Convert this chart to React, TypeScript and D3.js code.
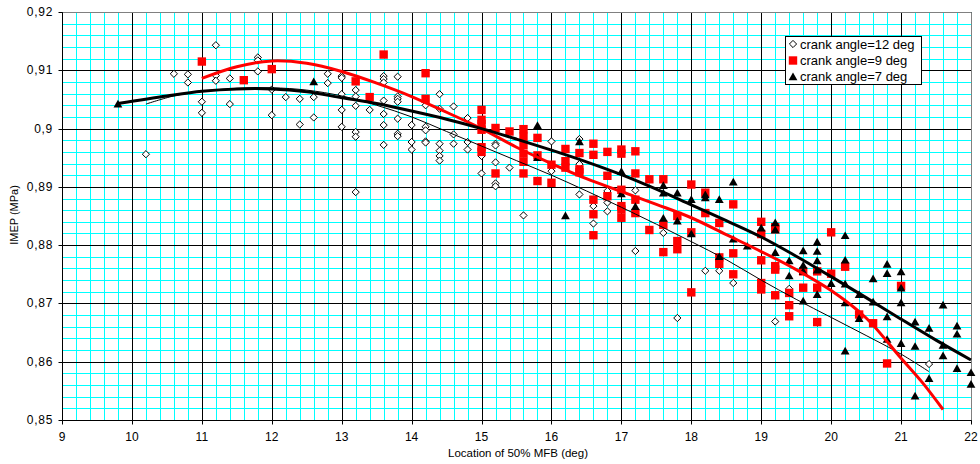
import React from "react";
import * as d3 from "d3";

// ---- data ----
const xTicks = [9, 10, 11, 12, 13, 14, 15, 16, 17, 18, 19, 20, 21, 22];
const yTicks = [0.85, 0.86, 0.87, 0.88, 0.89, 0.9, 0.91, 0.92];
const yTickLabels = ["0,85", "0,86", "0,87", "0,88", "0,89", "0,9", "0,91", "0,92"];

const deg12: [number, number][] = [
  [10.2, 0.8956], [10.6, 0.9094], [10.8, 0.9093], [10.8, 0.9079], [11.0, 0.9046], [11.0, 0.9027],
  [11.2, 0.9143], [11.2, 0.9091], [11.2, 0.9082], [11.4, 0.9086], [11.4, 0.9042],
  [11.8, 0.9122], [11.8, 0.9117], [11.8, 0.9098], [12.0, 0.9067], [12.0, 0.9023], [12.2, 0.9054],
  [12.4, 0.9051], [12.4, 0.9007], [12.6, 0.9054], [12.6, 0.9019], [12.8, 0.9094], [12.8, 0.9078],
  [13.0, 0.909], [13.0, 0.9087], [13.0, 0.9059], [13.0, 0.9032], [13.0, 0.9003],
  [13.2, 0.9066], [13.2, 0.9055], [13.2, 0.9039], [13.2, 0.8994], [13.2, 0.8986], [13.2, 0.8891],
  [13.4, 0.9032], [13.6, 0.909], [13.6, 0.9085], [13.6, 0.9079], [13.6, 0.9048], [13.6, 0.9025],
  [13.6, 0.9006], [13.6, 0.8972], [13.8, 0.9089], [13.8, 0.9055], [13.8, 0.9051], [13.8, 0.9046],
  [13.8, 0.9017], [13.8, 0.8991], [13.8, 0.8987], [14.0, 0.9006], [14.0, 0.8977], [14.0, 0.8964],
  [14.2, 0.904], [14.2, 0.9003], [14.2, 0.8997], [14.2, 0.8978], [14.2, 0.8976],
  [14.4, 0.9059], [14.4, 0.9034], [14.4, 0.8974], [14.4, 0.8962], [14.4, 0.8953], [14.4, 0.8945],
  [14.6, 0.9038], [14.6, 0.899], [14.6, 0.8974], [14.8, 0.9018], [14.8, 0.8977], [14.8, 0.8964],
  [15.0, 0.8953], [15.0, 0.8923], [15.2, 0.8974], [15.2, 0.8971], [15.2, 0.8942], [15.2, 0.8906],
  [15.2, 0.8901], [15.4, 0.8933], [15.6, 0.8851], [16.0, 0.8978], [16.0, 0.8927],
  [16.4, 0.8982], [16.4, 0.8939], [16.4, 0.8887], [16.6, 0.8867], [16.6, 0.8837],
  [16.8, 0.8893], [16.8, 0.8873], [16.8, 0.8858], [17.2, 0.8894], [17.2, 0.879], [17.6, 0.8821],
  [17.8, 0.8675], [18.2, 0.8756], [18.4, 0.8756], [18.6, 0.8735], [19.2, 0.8669], [19.4, 0.8725],
  [19.8, 0.8667], [21.4, 0.8596],
];

const deg9: [number, number][] = [
  [11.0, 0.9115], [11.6, 0.9083], [12.0, 0.9102], [13.2, 0.9081], [13.4, 0.9054], [13.6, 0.9127],
  [14.2, 0.9095], [14.2, 0.9051], [15.0, 0.9032], [15.0, 0.9015], [15.0, 0.9008], [15.0, 0.8998],
  [15.0, 0.8968], [15.0, 0.896], [15.2, 0.9001], [15.2, 0.8923], [15.4, 0.8995],
  [15.6, 0.8999], [15.6, 0.8986], [15.6, 0.8972], [15.6, 0.8957], [15.6, 0.8943], [15.6, 0.8923],
  [15.8, 0.8984], [15.8, 0.8954], [15.8, 0.891], [16.0, 0.8938], [16.0, 0.8907],
  [16.2, 0.8965], [16.2, 0.8944], [16.2, 0.8933], [16.4, 0.8958], [16.4, 0.893], [16.4, 0.8925],
  [16.6, 0.8974], [16.6, 0.8955], [16.6, 0.8878], [16.6, 0.8853], [16.6, 0.8817],
  [16.8, 0.896], [16.8, 0.8919], [16.8, 0.8884], [17.0, 0.8964], [17.0, 0.8957], [17.0, 0.8895],
  [17.0, 0.8867], [17.0, 0.8861], [17.0, 0.8847], [17.2, 0.8961], [17.2, 0.8923], [17.2, 0.8878],
  [17.2, 0.8855], [17.4, 0.8913], [17.4, 0.8826], [17.6, 0.8913], [17.6, 0.8835], [17.6, 0.8788],
  [17.8, 0.885], [17.8, 0.8807], [17.8, 0.8793], [18.0, 0.8904], [18.0, 0.8822], [18.0, 0.8719],
  [18.2, 0.889], [18.2, 0.8855], [18.4, 0.8838], [18.4, 0.8779], [18.4, 0.8768],
  [18.6, 0.887], [18.6, 0.8786], [18.6, 0.875], [19.0, 0.884], [19.0, 0.8819], [19.0, 0.8774],
  [19.0, 0.8735], [19.0, 0.8724], [19.2, 0.8831], [19.2, 0.8827], [19.2, 0.8764], [19.2, 0.8758],
  [19.2, 0.8714], [19.4, 0.8718], [19.4, 0.8697], [19.4, 0.8678], [19.6, 0.8755], [19.6, 0.8727],
  [19.8, 0.8755], [19.8, 0.8727], [19.8, 0.8668], [20.0, 0.8822], [20.0, 0.8751], [20.2, 0.8763],
  [20.4, 0.8681], [20.6, 0.8666], [20.8, 0.8597], [21.0, 0.873],
];

const deg7: [number, number][] = [
  [9.8, 0.9042], [12.6, 0.908], [15.8, 0.9005], [15.8, 0.895], [16.2, 0.885], [16.4, 0.8977],
  [17.0, 0.8926], [17.0, 0.8888], [17.2, 0.8866], [17.6, 0.8902], [17.6, 0.8889], [17.6, 0.8846],
  [17.8, 0.8889], [17.8, 0.8841], [18.0, 0.8878], [18.0, 0.8819], [18.2, 0.8886], [18.2, 0.8881],
  [18.4, 0.8878], [18.4, 0.878], [18.6, 0.8908], [18.6, 0.881], [18.8, 0.8798], [19.0, 0.8829],
  [19.2, 0.8838], [19.2, 0.8826], [19.2, 0.8787], [19.4, 0.8773], [19.4, 0.8747],
  [19.6, 0.879], [19.6, 0.8765], [19.6, 0.8755], [19.6, 0.8704],
  [19.8, 0.8805], [19.8, 0.8789], [19.8, 0.8773], [19.8, 0.8757], [19.8, 0.8715], [20.0, 0.8734],
  [20.2, 0.8816], [20.2, 0.8774], [20.2, 0.8733], [20.2, 0.8701], [20.2, 0.8618],
  [20.4, 0.8715], [20.4, 0.8674], [20.6, 0.8742], [20.6, 0.8702],
  [20.8, 0.8767], [20.8, 0.8751], [20.8, 0.8677], [20.8, 0.8638],
  [21.0, 0.8754], [21.0, 0.8726], [21.0, 0.8701], [21.0, 0.8631],
  [21.2, 0.8668], [21.2, 0.8626], [21.2, 0.8541], [21.4, 0.8657], [21.4, 0.8571],
  [21.6, 0.8697], [21.6, 0.8628], [21.6, 0.861], [21.8, 0.8661], [21.8, 0.8647], [21.8, 0.8588],
  [22.0, 0.8581], [22.0, 0.8561],
];

// trend lines
const trend12: [number, number][] = [
  [10.2, 0.9042], [10.6, 0.9056], [11, 0.9064], [11.5, 0.9069], [12, 0.907], [12.5, 0.9066],
  [13, 0.9056], [13.5, 0.904], [14, 0.902], [14.5, 0.8995], [15, 0.897], [15.5, 0.8945],
  [16, 0.892], [16.5, 0.8893], [17, 0.8865], [17.5, 0.8836], [18, 0.8806], [18.5, 0.8775],
  [19, 0.874], [19.5, 0.8707], [20, 0.8676], [20.5, 0.8645], [21, 0.8613], [21.4, 0.8583],
];
const trend9: [number, number][] = [
  [11, 0.9086], [11.5, 0.9106], [12, 0.9116], [12.5, 0.9112], [13, 0.9098], [13.5, 0.9078],
  [14, 0.9055], [14.5, 0.9028], [15, 0.9], [15.5, 0.8968], [16, 0.894], [16.5, 0.8914],
  [17, 0.8892], [17.5, 0.887], [18, 0.8847], [18.5, 0.8818], [19, 0.8789], [19.5, 0.8758],
  [20, 0.8722], [20.5, 0.8675], [21, 0.8606], [21.3, 0.8565], [21.6, 0.8518],
];
const trend7: [number, number][] = [
  [9.8, 0.9043], [10.5, 0.9056], [11, 0.9064], [11.5, 0.9068], [12, 0.9068], [12.5, 0.9063],
  [13, 0.9053], [13.5, 0.9043], [14, 0.903], [14.5, 0.9016], [15, 0.9], [15.5, 0.8982],
  [16, 0.8963], [16.5, 0.8943], [17, 0.8921], [17.5, 0.8896], [18, 0.8869], [18.5, 0.8842],
  [19, 0.8814], [19.5, 0.8781], [20, 0.8746], [20.5, 0.871], [21, 0.8673], [21.5, 0.8637],
  [22, 0.8603],
];

const legendLabels = ["crank angle=12 deg", "crank angle=9 deg", "crank angle=7 deg"];

const W = 980;
const H = 464;
const FONT = "'Liberation Sans', Arial, sans-serif";

const diamondPath = (cx: number, cy: number, r = 3.6) =>
  `M${cx},${cy - r}L${cx + r},${cy}L${cx},${cy + r}L${cx - r},${cy}Z`;
const squarePath = (cx: number, cy: number, s = 4.2) =>
  `M${cx - s},${cy - s}H${cx + s}V${cy + s}H${cx - s}Z`;
const trianglePath = (cx: number, cy: number, s = 4.4) =>
  `M${cx},${cy - s}L${cx + s},${cy + s * 0.75}L${cx - s},${cy + s * 0.75}Z`;

const px = (v: number) => Math.round(v) + 0.5;

export default function App() {
  const x = d3.scaleLinear().domain([9, 22]).range([62, 971]);
  const y = d3.scaleLinear().domain([0.85, 0.92]).range([420, 12]);
  const [x0, x1] = x.range();
  const [y0, y1] = y.range();

  const minorX = d3.range(0, 66).map((i) => 9 + i * 0.2);
  const minorY = d3.range(0, 36).map((i) => 0.85 + i * 0.002);

  const line = d3
    .line<[number, number]>()
    .x((d) => x(d[0]))
    .y((d) => y(d[1]))
    .curve(d3.curveCatmullRom.alpha(0.5));

  return (
    <svg
      width={W}
      height={H}
      style={{ position: "absolute", left: 0, top: 0, background: "#fff" }}
      fontFamily={FONT}
    >
      <rect x={0} y={0} width={W} height={H} fill="#fff" />
      {/* minor grid */}
      <g stroke="#00ffff" strokeWidth={1}>
        {minorX.map((v, i) => (
          <line key={"mx" + i} x1={px(x(v))} x2={px(x(v))} y1={px(y1)} y2={px(y0)} />
        ))}
        {minorY.map((v, i) => (
          <line key={"my" + i} x1={px(x0)} x2={px(x1)} y1={px(y(v))} y2={px(y(v))} />
        ))}
      </g>
      {/* major grid */}
      <g stroke="#000" strokeWidth={1}>
        {xTicks.map((v) => (
          <line key={"gx" + v} x1={px(x(v))} x2={px(x(v))} y1={px(y1)} y2={px(y0)} />
        ))}
        {yTicks.map((v) => (
          <line key={"gy" + v} x1={px(x0)} x2={px(x1)} y1={px(y(v))} y2={px(y(v))} />
        ))}
      </g>
      {/* frame */}
      <g>
        <line x1={px(x0)} x2={px(x1)} y1={px(y1)} y2={px(y1)} stroke="#808080" />
        <line x1={px(x1)} x2={px(x1)} y1={px(y1)} y2={px(y0)} stroke="#808080" />
        <line x1={px(x0)} x2={px(x0)} y1={px(y1)} y2={px(y0)} stroke="#000" />
        <line x1={px(x0)} x2={px(x1)} y1={px(y0)} y2={px(y0)} stroke="#000" />
        {yTicks.map((v) => (
          <line key={"ty" + v} x1={px(x0) - 4} x2={px(x0)} y1={px(y(v))} y2={px(y(v))} stroke="#000" />
        ))}
        {xTicks.map((v) => (
          <line key={"tx" + v} x1={px(x(v))} x2={px(x(v))} y1={px(y0)} y2={px(y0) + 4} stroke="#000" />
        ))}
      </g>
      {/* tick labels */}
      <g fontSize={12} fill="#000">
        {yTicks.map((v, i) => (
          <text key={"ly" + v} x={x0 - 9} y={y(v) + 4} textAnchor="end" letterSpacing={0.7}>
            {yTickLabels[i]}
          </text>
        ))}
        {xTicks.map((v) => (
          <text key={"lx" + v} x={x(v)} y={y0 + 21} textAnchor="middle">
            {v}
          </text>
        ))}
      </g>
      <text x={518} y={457} fontSize={11.5} textAnchor="middle">
        Location of 50% MFB (deg)
      </text>
      <text transform={`translate(18,215) rotate(-90)`} fontSize={11} textAnchor="middle">
        IMEP (MPa)
      </text>

      {/* points */}
      <g>
        {deg12.map((d, i) => (
          <path key={"d" + i} d={diamondPath(x(d[0]), y(d[1]))} fill="#fff" stroke="#000" strokeWidth={1} />
        ))}
        {deg9.map((d, i) => (
          <path key={"s" + i} d={squarePath(x(d[0]), y(d[1]))} fill="#ff0000" stroke="none" />
        ))}
        {deg7.map((d, i) => (
          <path key={"t" + i} d={trianglePath(x(d[0]), y(d[1]))} fill="#000" stroke="none" />
        ))}
      </g>

      {/* trend lines */}
      <path d={line(trend12) || ""} fill="none" stroke="#000" strokeWidth={1} />
      <path d={line(trend9) || ""} fill="none" stroke="#ff0000" strokeWidth={3} />
      <path d={line(trend7) || ""} fill="none" stroke="#000" strokeWidth={3} />

      {/* legend */}
      <g>
        <rect x={785.5} y={36.5} width={136} height={48} fill="#fff" stroke="#000" strokeWidth={1} />
        <path d={diamondPath(793, 44)} fill="#fff" stroke="#000" />
        <path d={squarePath(793, 60.5)} fill="#ff0000" />
        <path d={trianglePath(793, 77)} fill="#000" />
        {legendLabels.map((t, i) => (
          <text key={t} x={800} y={48.5 + i * 16.3} fontSize={13} fill="#000">
            {t}
          </text>
        ))}
      </g>
    </svg>
  );
}
